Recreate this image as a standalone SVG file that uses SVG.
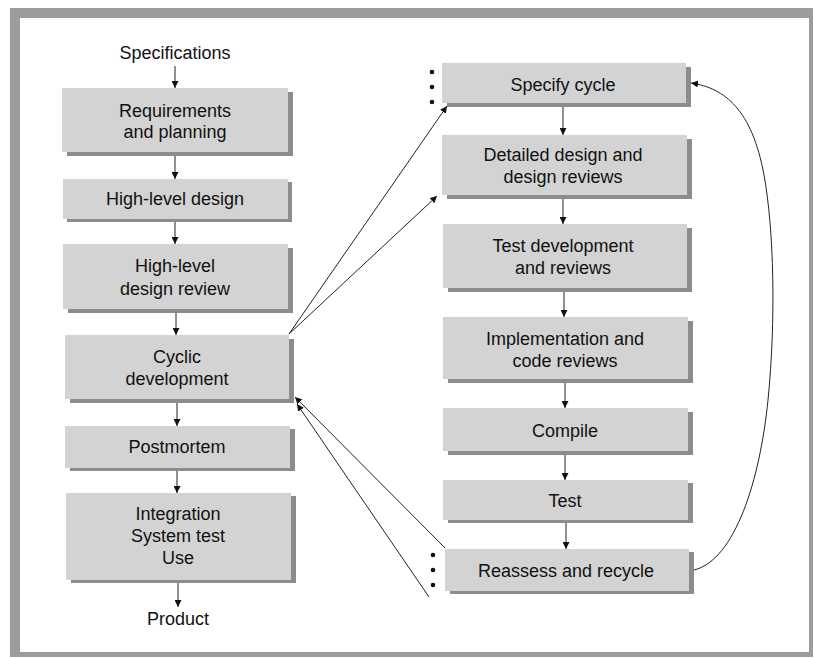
<svg xmlns="http://www.w3.org/2000/svg" width="814" height="658" viewBox="0 0 814 658">
<style>
.frame{fill:#9c9c9c}
.box{fill:#d3d3d3}
.sh{fill:#8c8c8c}
text{font-family:"Liberation Sans","DejaVu Sans",sans-serif;font-size:18px;fill:#111;text-anchor:middle}
.c{stroke:#222;stroke-width:1;fill:none}
.dot{fill:#111}
</style>
<defs>
<marker id="ah" viewBox="0 0 10 10" refX="10" refY="5" markerWidth="7" markerHeight="7" orient="auto" markerUnits="userSpaceOnUse">
<path d="M0,0 L10,5 L0,10 z" fill="#111"/>
</marker>
</defs>
<rect width="814" height="658" fill="#fff"/>
<g id="frame">
<rect class="frame" x="10" y="8" width="803" height="649"/>
<rect x="20" y="18" width="789" height="634" fill="#fff"/>
</g>
<g id="specifications"><text x="175" y="59">Specifications</text></g>
<g id="requirements">
<rect class="sh" x="67" y="92" width="226" height="64"/>
<rect class="box" x="62" y="88" width="226" height="64"/>
<text x="175" y="117">Requirements</text><text x="175" y="138">and planning</text>
</g>
<g id="hld">
<rect class="sh" x="67" y="182" width="225" height="40"/>
<rect class="box" x="63" y="179" width="225" height="40"/>
<text x="175" y="205">High-level design</text>
</g>
<g id="hldr">
<rect class="sh" x="68" y="248" width="225" height="65"/>
<rect class="box" x="63" y="244" width="225" height="65"/>
<text x="175" y="272">High-level</text><text x="175" y="295">design review</text>
</g>
<g id="cyclic">
<rect class="sh" x="70" y="339" width="224" height="64"/>
<rect class="box" x="65" y="335" width="224" height="64"/>
<text x="177" y="363">Cyclic</text><text x="177" y="385">development</text>
</g>
<g id="postmortem">
<rect class="sh" x="70" y="429" width="225" height="42"/>
<rect class="box" x="65" y="426" width="225" height="42"/>
<text x="177" y="453">Postmortem</text>
</g>
<g id="integration">
<rect class="sh" x="71" y="496" width="225" height="87"/>
<rect class="box" x="66" y="493" width="225" height="87"/>
<text x="178" y="520">Integration</text><text x="178" y="542">System test</text><text x="178" y="564">Use</text>
</g>
<g id="product"><text x="178" y="625">Product</text></g>

<g id="specify">
<rect class="sh" x="447" y="67" width="244" height="40"/>
<rect class="box" x="442" y="63" width="244" height="40"/>
<text x="563" y="91">Specify cycle</text>
<circle class="dot" cx="432" cy="72" r="2.3"/><circle class="dot" cx="432" cy="87" r="2.3"/><circle class="dot" cx="432" cy="102" r="2.3"/>
</g>
<g id="detailed">
<rect class="sh" x="447" y="139" width="245" height="60"/>
<rect class="box" x="442" y="135" width="245" height="60"/>
<text x="563" y="161">Detailed design and</text><text x="563" y="183">design reviews</text>
</g>
<g id="testdev">
<rect class="sh" x="448" y="228" width="244" height="64"/>
<rect class="box" x="443" y="224" width="244" height="64"/>
<text x="563" y="252">Test development</text><text x="563" y="274">and reviews</text>
</g>
<g id="impl">
<rect class="sh" x="448" y="321" width="245" height="62"/>
<rect class="box" x="443" y="317" width="245" height="62"/>
<text x="565" y="345">Implementation and</text><text x="565" y="367">code reviews</text>
</g>
<g id="compile">
<rect class="sh" x="448" y="412" width="245" height="43"/>
<rect class="box" x="443" y="408" width="245" height="43"/>
<text x="565" y="437">Compile</text>
</g>
<g id="test">
<rect class="sh" x="448" y="483" width="245" height="40"/>
<rect class="box" x="443" y="480" width="245" height="40"/>
<text x="565" y="507">Test</text>
</g>
<g id="reassess">
<rect class="sh" x="450" y="552" width="244" height="42"/>
<rect class="box" x="445" y="549" width="244" height="42"/>
<text x="566" y="577">Reassess and recycle</text>
<circle class="dot" cx="433" cy="555" r="2.3"/><circle class="dot" cx="433" cy="570" r="2.3"/><circle class="dot" cx="433" cy="585" r="2.3"/>
</g>

<g id="connectors">
<line class="c" x1="175" y1="66" x2="175" y2="88" marker-end="url(#ah)"/>
<line class="c" x1="175" y1="156" x2="175" y2="179" marker-end="url(#ah)"/>
<line class="c" x1="175" y1="222" x2="175" y2="244" marker-end="url(#ah)"/>
<line class="c" x1="176" y1="313" x2="176" y2="335" marker-end="url(#ah)"/>
<line class="c" x1="177" y1="403" x2="177" y2="426" marker-end="url(#ah)"/>
<line class="c" x1="177" y1="471" x2="177" y2="493" marker-end="url(#ah)"/>
<line class="c" x1="178" y1="583" x2="178" y2="607" marker-end="url(#ah)"/>

<line class="c" x1="563" y1="107" x2="563" y2="135" marker-end="url(#ah)"/>
<line class="c" x1="563" y1="199" x2="563" y2="224" marker-end="url(#ah)"/>
<line class="c" x1="564" y1="292" x2="564" y2="317" marker-end="url(#ah)"/>
<line class="c" x1="565" y1="383" x2="565" y2="408" marker-end="url(#ah)"/>
<line class="c" x1="565" y1="455" x2="565" y2="480" marker-end="url(#ah)"/>
<line class="c" x1="566" y1="523" x2="566" y2="549" marker-end="url(#ah)"/>

<line class="c" x1="289" y1="334" x2="447" y2="106" marker-end="url(#ah)"/>
<line class="c" x1="289" y1="334" x2="437" y2="196" marker-end="url(#ah)"/>
<line class="c" x1="445" y1="548" x2="295" y2="397" marker-end="url(#ah)"/>
<line class="c" x1="429" y1="597" x2="297" y2="404" marker-end="url(#ah)"/>
<path class="c" d="M694,570 C735,560 760,480 768,400 C776,320 774,230 764,175 C752,110 725,88 691,83" marker-end="url(#ah)"/>
</g>
</svg>
